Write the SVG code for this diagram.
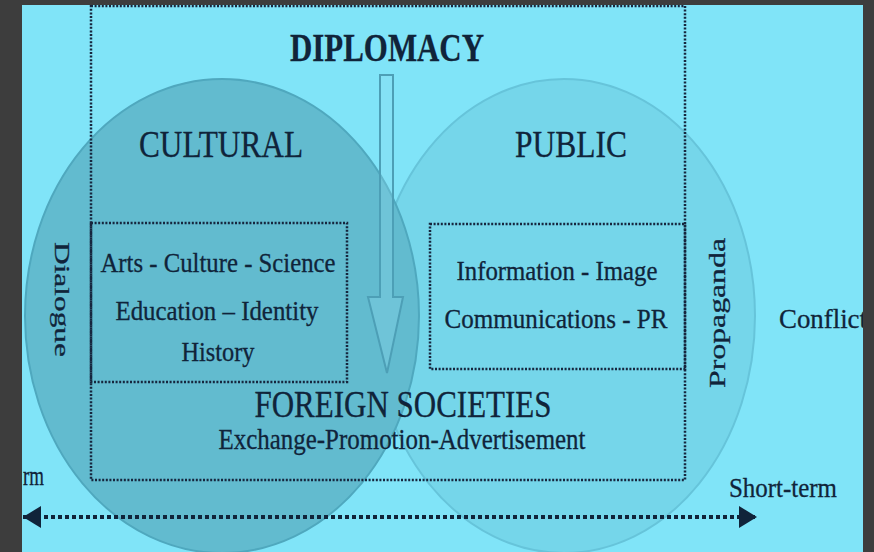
<svg xmlns="http://www.w3.org/2000/svg" width="874" height="552" viewBox="0 0 874 552">
<style>
.t{font-family:"Liberation Serif","Times New Roman",serif;fill:#10243a;stroke:#10243a;stroke-width:0.3;}
.box{fill:none;stroke:#16263e;stroke-width:2.5;stroke-dasharray:2 1.6;}
</style>
<defs>
<marker id="ah" markerWidth="18" markerHeight="22" refX="18" refY="11" orient="auto-start-reverse" markerUnits="userSpaceOnUse" viewBox="0 0 18 22"><path d="M0,0 L18,11 L0,22 Z" fill="#10243a"/></marker>
</defs>
<rect x="0" y="0" width="874" height="552" fill="#80e4f8"/>
<g id="public-circle"><ellipse cx="564" cy="316" rx="191" ry="237" fill="#75d6ea" stroke="#66c4da" stroke-width="2"/></g>
<g id="cultural-circle"><ellipse cx="222" cy="316" rx="197" ry="237" fill="#62bbcf" stroke="#4fa8be" stroke-width="2"/></g>
<g id="diplomacy-frame"><rect class="box" x="91" y="6" width="594" height="474"/>
<text class="t" x="387" y="61" font-size="40" font-weight="bold" text-anchor="middle" textLength="194" lengthAdjust="spacingAndGlyphs">DIPLOMACY</text></g>
<g id="cultural-label"><text class="t" x="221" y="157" font-size="37" text-anchor="middle" textLength="164" lengthAdjust="spacingAndGlyphs">CULTURAL</text></g>
<g id="public-label"><text class="t" x="571" y="157" font-size="37" text-anchor="middle" textLength="112" lengthAdjust="spacingAndGlyphs">PUBLIC</text></g>
<g id="cultural-box"><rect class="box" x="91" y="223" width="256" height="159"/>
<text class="t" x="218" y="272" font-size="27" text-anchor="middle" textLength="235" lengthAdjust="spacingAndGlyphs">Arts - Culture - Science</text>
<text class="t" x="217" y="320" font-size="27" text-anchor="middle" textLength="203" lengthAdjust="spacingAndGlyphs">Education – Identity</text>
<text class="t" x="218" y="361" font-size="27" text-anchor="middle" textLength="73" lengthAdjust="spacingAndGlyphs">History</text></g>
<g id="public-box"><rect class="box" x="430" y="224" width="255" height="145"/>
<text class="t" x="557" y="280" font-size="27" text-anchor="middle" textLength="201" lengthAdjust="spacingAndGlyphs">Information - Image</text>
<text class="t" x="556" y="328" font-size="27" text-anchor="middle" textLength="223" lengthAdjust="spacingAndGlyphs">Communications - PR</text></g>
<g id="diplomacy-arrow"><path d="M380,75 L393,75 L393,297 L403,297 L387,373 L368,297 L380,297 Z" fill="#8fdcf0" fill-opacity="0.3" stroke="#4d9fb6" stroke-width="2"/></g>
<g id="foreign-societies"><text class="t" x="403" y="417" font-size="37" text-anchor="middle" textLength="297" lengthAdjust="spacingAndGlyphs">FOREIGN SOCIETIES</text>
<text class="t" x="402" y="449" font-size="29" text-anchor="middle" textLength="367" lengthAdjust="spacingAndGlyphs">Exchange-Promotion-Advertisement</text></g>
<g id="dialogue"><text class="t" transform="translate(55,242) rotate(90)" x="0" y="0" font-size="22" textLength="115" lengthAdjust="spacingAndGlyphs">Dialogue</text></g>
<g id="propaganda"><text class="t" transform="translate(725,388) rotate(-90)" x="0" y="0" font-size="24" textLength="150" lengthAdjust="spacingAndGlyphs">Propaganda</text></g>
<g id="conflict"><text class="t" x="779" y="328" font-size="28" textLength="88" lengthAdjust="spacingAndGlyphs">Conflict</text></g>
<g id="short-term"><text class="t" x="729" y="497" font-size="28" textLength="108" lengthAdjust="spacingAndGlyphs">Short-term</text></g>
<g id="long-term"><text class="t" x="23" y="485" font-size="28" textLength="21" lengthAdjust="spacingAndGlyphs">rm</text></g>
<g id="connectors"><line x1="23" y1="517" x2="757" y2="517" stroke="#10243a" stroke-width="4" stroke-dasharray="4 3" marker-start="url(#ah)" marker-end="url(#ah)"/></g>
<g id="frame-border" fill="#3d3d3d"><rect x="0" y="0" width="22" height="552"/><rect x="0" y="0" width="874" height="5"/><rect x="863" y="0" width="11" height="552"/></g>
</svg>
